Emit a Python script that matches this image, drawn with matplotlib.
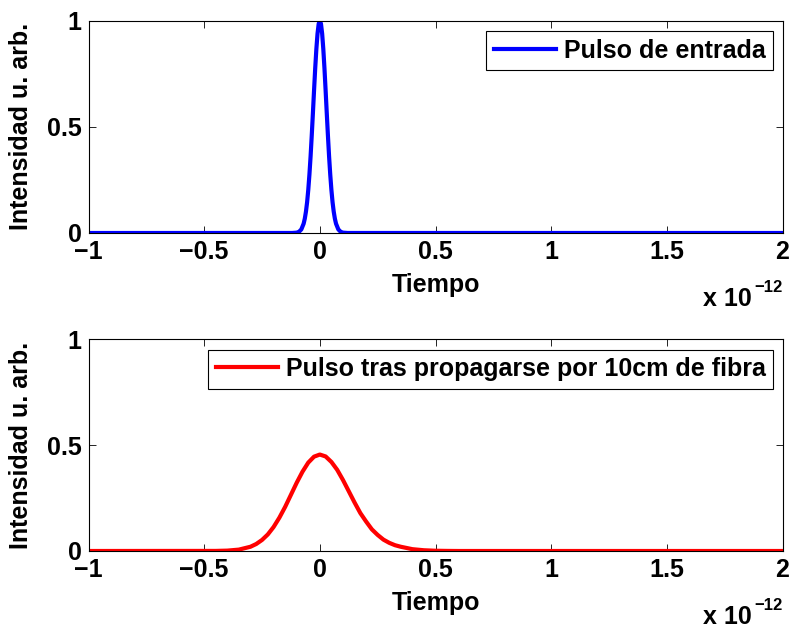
import numpy as np
import matplotlib.pyplot as plt

# Pulso de entrada (tiempo en unidades de 1e-12 s)
t_entrada = [-1.0, -0.12, -0.10, -0.09, -0.08, -0.07, -0.065, -0.06, -0.055, -0.05,
             -0.045, -0.04, -0.035, -0.03, -0.025, -0.02, -0.015, -0.01, -0.005, 0.0,
             0.005, 0.01, 0.015, 0.02, 0.025, 0.03, 0.035, 0.04, 0.045, 0.05,
             0.055, 0.06, 0.065, 0.07, 0.08, 0.09, 0.10, 0.12, 2.0]
i_entrada = [0.0, 0.0001, 0.0017, 0.0057, 0.0169, 0.0439, 0.0676, 0.1007, 0.145, 0.203,
             0.275, 0.360, 0.458, 0.563, 0.671, 0.775, 0.866, 0.938, 0.984, 1.0,
             0.984, 0.938, 0.866, 0.775, 0.671, 0.563, 0.458, 0.360, 0.275, 0.203,
             0.145, 0.1007, 0.0676, 0.0439, 0.0169, 0.0057, 0.0017, 0.0001, 0.0]

# Pulso tras 10 cm de fibra
t_salida = [-1.0, -0.45, -0.40, -0.35, -0.30, -0.275, -0.25, -0.225, -0.20, -0.175,
            -0.15, -0.125, -0.10, -0.075, -0.05, -0.025, 0.0, 0.025, 0.05, 0.075,
            0.10, 0.125, 0.15, 0.175, 0.20, 0.225, 0.25, 0.275, 0.30, 0.325,
            0.35, 0.40, 0.45, 0.50, 0.55, 0.60, 2.0]
i_salida = [0.0, 0.0004, 0.0018, 0.0065, 0.020, 0.033, 0.052, 0.078, 0.113, 0.157,
            0.208, 0.265, 0.322, 0.374, 0.417, 0.445, 0.455, 0.446, 0.420, 0.383,
            0.335, 0.282, 0.229, 0.179, 0.139, 0.102, 0.0757, 0.0536, 0.0385, 0.0273,
            0.020, 0.0086, 0.0035, 0.0012, 0.0004, 0.0, 0.0]

xticks = [-1, -0.5, 0, 0.5, 1, 1.5, 2]
xtick_labels = ['\u22121', '\u22120.5', '0', '0.5', '1', '1.5', '2']
yticks = [0, 0.5, 1]
ytick_labels = ['0', '0.5', '1']

plt.rcParams['font.family'] = ['Liberation Sans', 'DejaVu Sans']
plt.rcParams['font.weight'] = 'bold'

W, H = 795, 631
fig = plt.figure(figsize=(W / 100, H / 100), dpi=100)
ax1 = fig.add_axes([88.5 / W, 1 - 233 / H, 694 / W, 212.5 / H])
ax2 = fig.add_axes([88.5 / W, 1 - 551 / H, 694 / W, 212 / H])

paneles = [
    (ax1, t_entrada, i_entrada, (0, 0, 1), 'Pulso de entrada'),
    (ax2, t_salida, i_salida, (1, 0, 0), 'Pulso tras propagarse por 10cm de fibra'),
]

for ax, t, y, color, etiqueta in paneles:
    ax.plot(t, y, color=color, lw=3, label=etiqueta)
    ax.set_xlim(-1, 2)
    ax.set_ylim(0, 1)
    ax.set_xticks(xticks)
    ax.set_xticklabels(xtick_labels)
    ax.set_yticks(yticks)
    ax.set_yticklabels(ytick_labels)
    ax.tick_params(direction='in', length=5, width=0.6, top=True, right=True,
                   labelsize=18, pad=5)
    for s in ax.spines.values():
        s.set_linewidth(0.8)
    ax.set_xlabel('Tiempo', fontsize=18, fontweight='bold')
    ax.xaxis.set_label_coords(0.5, -0.19)
    ax.set_ylabel('Intensidad u. arb.', fontsize=18, fontweight='bold')
    ax.yaxis.set_label_coords(-0.08, 0.5)
    # factor de escala del eje de tiempo
    ax.text(0.9556, -0.344, 'x 10', transform=ax.transAxes, ha='right',
            va='baseline', fontsize=18, fontweight='bold')
    ax.text(0.959, -0.278, '\u221212', transform=ax.transAxes, ha='left',
            va='baseline', fontsize=12, fontweight='bold')
    leg = ax.legend(loc='upper right', bbox_to_anchor=(0.9863, 0.95),
                    borderaxespad=0, fontsize=18, fancybox=False,
                    edgecolor='black', framealpha=1, handlelength=2.5,
                    handletextpad=0.3, borderpad=0.3)
    leg.get_frame().set_linewidth(0.8)

fig.savefig('out.png', dpi=100)
